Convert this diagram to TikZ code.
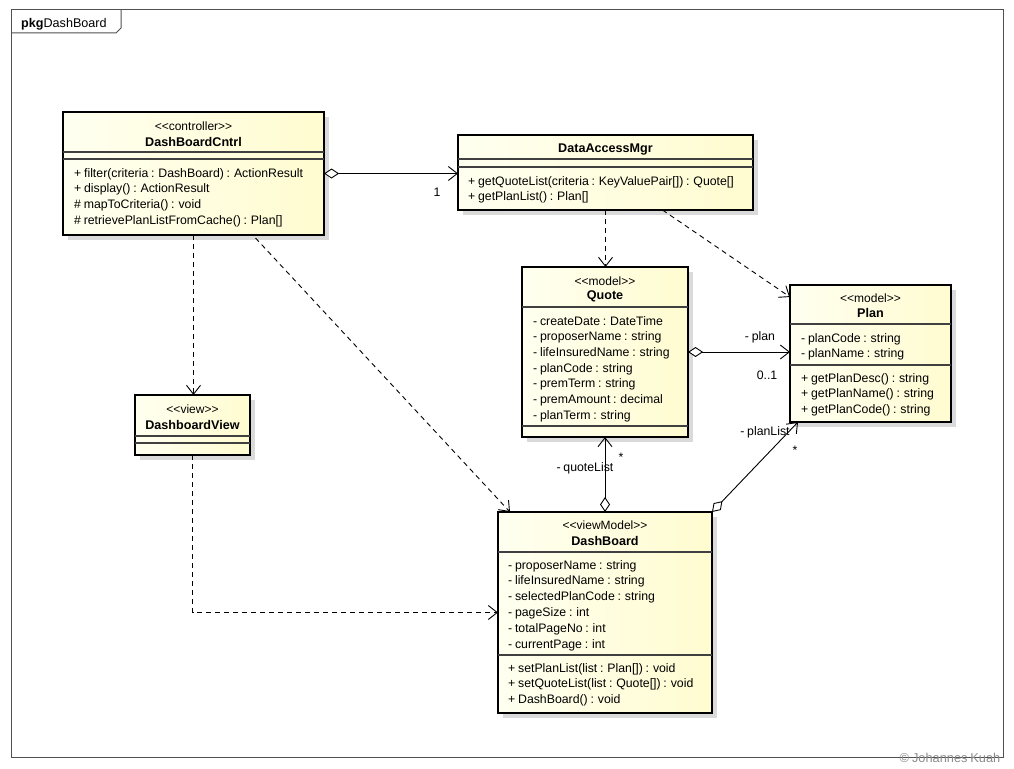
\documentclass[tikz,border=0pt]{standalone}
\usepackage{fontspec}
\newfontfamily\umlfont{Liberation Sans}[WordSpace=0.8]
\usetikzlibrary{arrows.meta,shadows,calc}

\definecolor{boxleft}{RGB}{255,255,240}
\definecolor{boxright}{RGB}{255,252,208}
\definecolor{shadowgray}{RGB}{218,218,218}
\definecolor{framegray}{RGB}{80,80,80}

\tikzset{
  classbox/.style={draw,line width=2.4pt,anchor=north west,inner sep=0pt,outer sep=0pt,
    left color=boxleft,right color=boxright,
    drop shadow={shadow xshift=5pt,shadow yshift=-5pt,fill=shadowgray,opacity=1}},
  sep/.style={line width=1.2pt,draw=black!75},
  stereo/.style={font=\umlfont\fontsize{12}{14}\selectfont,inner sep=0pt},
  cname/.style={font=\umlfont\bfseries\fontsize{12.6}{14}\selectfont,inner sep=0pt},
  member/.style={font=\umlfont\fontsize{12.3}{14}\selectfont,anchor=base west,inner sep=0pt},
  lbl/.style={font=\umlfont\fontsize{12.3}{14}\selectfont,inner sep=0pt},
  dep/.style={line width=0.9pt,dash pattern=on 5pt off 4pt,-{Straight Barb[length=9pt,width=14pt]}},
  aggr/.style={line width=0.9pt,{Diamond[open,fill=white,length=15pt,width=10pt]}-{Straight Barb[length=9pt,width=14pt]}},
  frame/.style={line width=1pt,draw=framegray}
}

\begin{document}
\begin{tikzpicture}[x=1pt,y=-1pt]
\useasboundingbox[fill=white] (0,0) rectangle (1014,768);

% Package frame
\draw[frame] (11,10) rectangle (1003,757);
\draw[frame] (11,33) -- (116,33) -- (121,28) -- (121,10);
\node[anchor=west,font=\umlfont\fontsize{12.6}{14}\selectfont,inner sep=0pt] (pkgtitle) at (21,24) {\textbf{pkg}DashBoard};

% Class boxes
\node[classbox,minimum width=261,minimum height=123] (cntrl) at (63,112) {};
\node[classbox,minimum width=295,minimum height=75] (dam) at (458,135) {};
\node[classbox,minimum width=166,minimum height=170] (quote) at (522,267) {};
\node[classbox,minimum width=161,minimum height=137] (plan) at (790,285) {};
\node[classbox,minimum width=214,minimum height=201] (dashb) at (498,512) {};
\node[classbox,minimum width=115,minimum height=60] (view) at (135,395) {};

% Compartment lines
\foreach \b/\y in {cntrl/152,cntrl/159,dam/159,dam/167,quote/307,quote/426,
                   plan/324,plan/365,dashb/552,dashb/655,view/436,view/443}
  \draw[sep] (\b.west |- 0,\y) -- (\b.east |- 0,\y);

% Stereotypes and names
\node[stereo] (cntrl-st) at (cntrl.north |- 0,126) {<<controller>>};
\node[cname] (cntrl-name) at (cntrl.north |- 0,142) {DashBoardCntrl};
\node[cname] (dam-name) at (dam.north |- 0,149) {DataAccessMgr};
\node[stereo] (quote-st) at (quote.north |- 0,281) {<<model>>};
\node[cname] (quote-name) at (quote.north |- 0,296) {Quote};
\node[stereo] (plan-st) at (plan.north |- 0,298) {<<model>>};
\node[cname] (plan-name) at (plan.north |- 0,313) {Plan};
\node[stereo] (dashb-st) at (dashb.north |- 0,525) {<<viewModel>>};
\node[cname] (dashb-name) at (dashb.north |- 0,541) {DashBoard};
\node[stereo] (view-st) at (view.north |- 0,409) {<<view>>};
\node[cname] (view-name) at (view.north |- 0,425) {DashboardView};

% Members
\foreach \m [count=\i from 0] in {+ filter(criteria : DashBoard) : ActionResult,
    + display() : ActionResult, \# mapToCriteria() : void,
    \# retrievePlanListFromCache() : Plan[]}
  \node[member] (cntrl-op\i) at (74,177+15.8*\i) {\m};
\foreach \m [count=\i from 0] in {+ getQuoteList(criteria : KeyValuePair[]) : Quote[],
    + getPlanList() : Plan[]}
  \node[member] (dam-op\i) at (468,185+15.8*\i) {\m};
\foreach \m [count=\i from 0] in {- createDate : DateTime, - proposerName : string,
    - lifeInsuredName : string, - planCode : string, - premTerm : string,
    - premAmount : decimal, - planTerm : string}
  \node[member] (quote-at\i) at (533,325+15.7*\i) {\m};
\foreach \m [count=\i from 0] in {- planCode : string, - planName : string}
  \node[member] (plan-at\i) at (801,342+15.8*\i) {\m};
\foreach \m [count=\i from 0] in {+ getPlanDesc() : string, + getPlanName() : string,
    + getPlanCode() : string}
  \node[member] (plan-op\i) at (801,382+15.8*\i) {\m};
\foreach \m [count=\i from 0] in {- proposerName : string, - lifeInsuredName : string,
    - selectedPlanCode : string, - pageSize : int, - totalPageNo : int,
    - currentPage : int}
  \node[member] (dashb-at\i) at (508,569+15.9*\i) {\m};
\foreach \m [count=\i from 0] in {+ setPlanList(list : Plan[]) : void,
    + setQuoteList(list : Quote[]) : void, + DashBoard() : void}
  \node[member] (dashb-op\i) at (508,672+15.9*\i) {\m};

% Dependencies
\draw[dep] (cntrl.south) -- (cntrl.south |- view.north);
\draw[dep] (view.south) |- (dashb.west);
\draw[dep] ($(cntrl.south)+(62,3)$) -- ($(dashb.north west)+(12,0)$);
\draw[dep] (dam.south) -- (dam.south |- quote.north);
\draw[dep] ($(dam.south)+(57,0)$) -- ($(plan.north west)+(0,12)$);

% Aggregations
\draw[aggr] (cntrl.east) -- (cntrl.east -| dam.west);
\draw[aggr] (quote.east) -- (quote.east -| plan.west);
\draw[aggr] (dashb.north) -- (quote.south);
\draw[aggr] (dashb.north east) -- ($(plan.south west)+(8,0)$);

% Roles and multiplicities
\node[lbl] (cntrl-dam-mult) at (437,192) {1};
\node[lbl] (quote-plan-role) at (760,337) {- plan};
\node[lbl] (quote-plan-mult) at (767,375) {0..1};
\node[lbl] (dashb-plan-role) at (765,432) {- planList};
\node[lbl] (dashb-plan-mult) at (795,450) {*};
\node[lbl] (dashb-quote-role) at (585,468) {- quoteList};
\node[lbl] (dashb-quote-mult) at (621,457) {*};

% Copyright
\node[font=\umlfont\fontsize{12.8}{14}\selectfont,text=black!45,inner sep=0pt] (copyright) at (950,758) {© Johannes Kuah};
\end{tikzpicture}
\end{document}
